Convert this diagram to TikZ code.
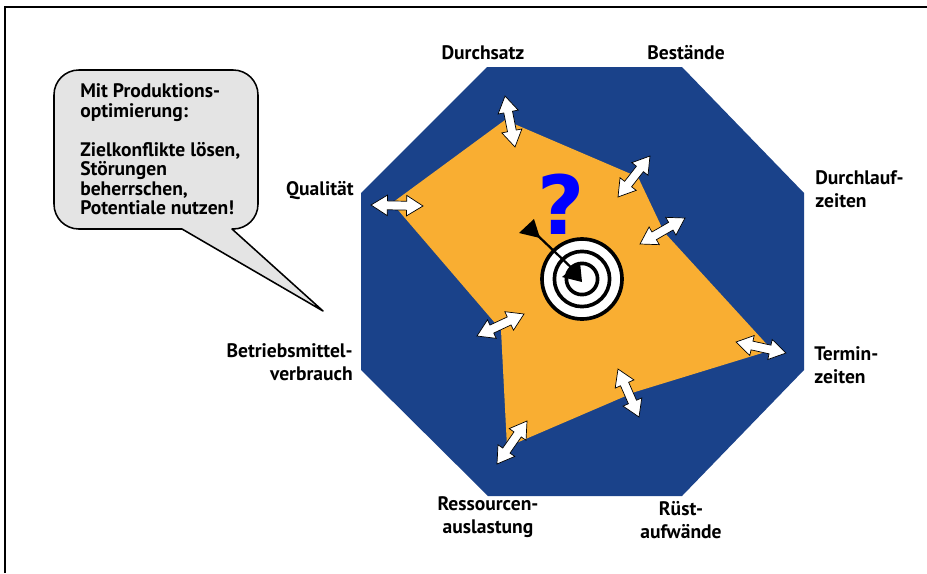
\documentclass[tikz,border=0pt]{standalone}
\usepackage{fontspec}
\setmainfont{PT Sans}
\newfontfamily\markfont{DejaVu Sans}
\usetikzlibrary{shapes.arrows,calc}
\definecolor{octblue}{HTML}{1A428A}
\definecolor{areaorange}{HTML}{F9AE32}
\definecolor{bubblegray}{HTML}{E4E4E4}
\definecolor{markblue}{HTML}{0000FF}
\tikzset{
  axislabel/.style={font=\bfseries\fontsize{13.9}{16.3}\selectfont, inner sep=0pt},
  bubbletext/.style={font=\bfseries\fontsize{13.9}{13.9}\selectfont, inner sep=0pt, align=left, anchor=west},
  ring/.style={circle, draw=black, line width=2.6pt, fill=white, inner sep=0pt},
  shiftarrow/.style={double arrow, draw=black, fill=white, line width=0.5pt, inner xsep=0pt, inner ysep=2.9pt,
    double arrow head extend=0.145cm, double arrow tip angle=64},
}
\newcommand{\shiftarrowat}[3]{%
  \path let \p1=($(#3)-(#2)$), \n1={veclen(\x1,\y1)}, \n2={atan2(\y1,\x1)} in
    node[shiftarrow, minimum height=\n1, rotate=\n2] (#1) at ($(#2)!0.5!(#3)$) {};
}
\begin{document}
\begin{tikzpicture}[x=0.025cm, y=-0.025cm]
  \useasboundingbox (0,0) rectangle (927,573);

  %Frame
  \draw [line width=1.4pt] (5,573) -- (5,7) -- (927,7);

  %Octagon
  \fill [octblue] (487,67) -- (682,67) -- (804,193) -- (804,370)
    -- (682,496) -- (488,496) -- (361,370) -- (361,193) -- cycle;

  %Profile
  \fill [areaorange] (392,203) -- (505,120) -- (638,177) -- (664,232) -- (772,350)
    -- (635,392) -- (507,447) -- (501,330) -- cycle;

  %Labels
  \node [axislabel] (durchsatz) at (483,53) {Durchsatz};
  \node [axislabel] (bestaende) at (686,53) {Bestände};
  \node [axislabel, align=left, anchor=west] (durchlauf) at (815,189) {Durchlauf-\\zeiten};
  \node [axislabel, align=left, anchor=west] (termin) at (814,365) {Termin-\\zeiten};
  \node [axislabel, align=center] (ruest) at (681,520) {Rüst-\\aufwände};
  \node [axislabel, align=center] (ressourcen) at (488,517) {Ressourcen-\\auslastung};
  \node [axislabel, align=right, anchor=east] (betrieb) at (353,362) {Betriebsmittel-\\verbrauch};
  \node [axislabel, anchor=east] (qualitaet) at (354,191) {Qualität};

  %Bubble
  \draw [line width=1.1pt, fill=bubblegray, line join=round]
    (182,229) [rounded corners=0.62cm] -- (54,229) -- (54,70) -- (258,70) -- (258,229)
    [sharp corners] -- (232,229) -- (323,311) -- cycle;
  \node [bubbletext] (bubble) at (80,149.5) {Mit Produktions-\\optimierung:\\[13.9pt]Zielkonflikte lösen,\\Störungen\\beherrschen,\\Potentiale nutzen!};

  %Shift arrows
  \foreach \tag/\xa/\ya/\xb/\yb in {
      top/505/96/515/147, stock/650/156/618/197, lead/685/218/640/244,
      due/736/342/786/353, setup/618/369/639/417, load/527/421/497/464,
      use/524/314/477/336, qual/371/205/423/206} {
    \coordinate (\tag a) at (\xa,\ya);
    \coordinate (\tag b) at (\xb,\yb);
    \shiftarrowat{\tag}{\tag a}{\tag b}
  }

  %Target
  \node [ring, minimum size=2.0cm] (ringouter) at (582,279) {};
  \node [ring, minimum size=1.38cm] (ringmiddle) at (582,279) {};
  \node [ring, minimum size=0.78cm] (ringinner) at (582,279) {};

  %Dart
  \coordinate (tail) at (534,232);
  \coordinate (tip) at (578,274);
  \draw [line width=1.6pt] (tail) -- (tip);
  \fill (519,233) -- (534,219) -- (540,238) -- cycle;
  \fill (580,262) -- (562,277) -- (582,282) -- cycle;

  %Question mark
  \node [text=markblue, inner sep=0pt, font=\markfont\bfseries\fontsize{58}{58}\selectfont] (mark) at (561,204) {?};
\end{tikzpicture}
\end{document}
